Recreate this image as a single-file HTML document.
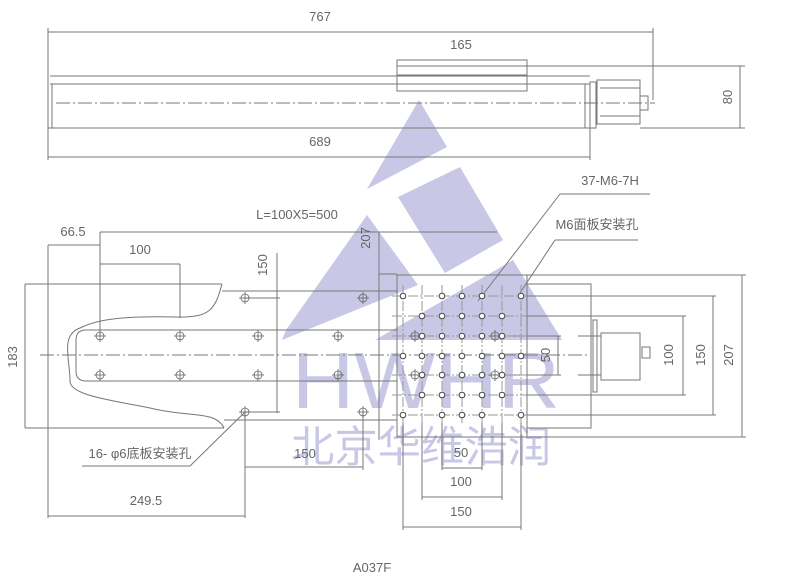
<!DOCTYPE html>
<html><head><meta charset="utf-8"><style>
html,body{margin:0;padding:0;background:#fff;width:800px;height:579px;overflow:hidden}
svg{display:block}
text{font-family:"Liberation Sans","Noto Sans CJK SC",sans-serif;fill:#666}
</style></head><body>
<svg width="800" height="579" viewBox="0 0 800 579" xmlns="http://www.w3.org/2000/svg">
<defs>
<g id="ch"><circle cx="0" cy="0" r="4"/><line x1="-6" y1="0" x2="6" y2="0"/><line x1="0" y1="-6" x2="0" y2="6"/></g>
</defs>
<!-- watermark -->
<g fill="#c8c8e6">
<polygon points="419,100 447,147 367,189"/>
<polygon points="398,197 460,167 503,240 445,273"/>
<polygon points="367,215 418,285 282,340 286,330"/>
<polygon points="513,260 562,340 375,340"/>
<text x="292" y="408" font-size="80" textLength="268" lengthAdjust="spacingAndGlyphs" style="fill:#c8c8e6">HWHR</text>
<text x="291" y="462" font-size="43" textLength="260" lengthAdjust="spacingAndGlyphs" style="fill:#c8c8e6">北京华维浩润</text>
</g>
<g stroke="#777" stroke-width="1" fill="none">
<!-- TOP VIEW -->
<line x1="48" y1="32" x2="653" y2="32"/>
<line x1="48" y1="28" x2="48" y2="160"/>
<line x1="653" y1="28" x2="653" y2="100"/>
<line x1="397" y1="60" x2="527" y2="60"/>
<rect x="397" y="60" width="130" height="31"/>
<line x1="397" y1="66" x2="527" y2="66"/>
<line x1="397" y1="75" x2="527" y2="75"/>
<line x1="50" y1="76" x2="590" y2="76"/>
<line x1="50" y1="84" x2="590" y2="84"/>
<rect x="52" y="84" width="533" height="44"/>
<line x1="48" y1="128" x2="590" y2="128"/>
<line x1="56" y1="103" x2="655" y2="103" stroke-dasharray="14,3,2,3"/>
<rect x="590" y="82" width="6" height="46"/>
<rect x="597" y="80" width="43" height="44"/>
<line x1="600" y1="88" x2="640" y2="88"/>
<line x1="600" y1="116" x2="640" y2="116"/>
<rect x="640" y="96" width="8" height="14"/>
<line x1="527" y1="66" x2="745" y2="66"/>
<line x1="640" y1="128" x2="745" y2="128"/>
<line x1="740" y1="66" x2="740" y2="128"/>
<line x1="48" y1="157" x2="590" y2="157"/>
<line x1="590" y1="128" x2="590" y2="160"/>
<!-- BOTTOM VIEW -->
<line x1="100" y1="232" x2="497" y2="232"/>
<line x1="48" y1="245" x2="100" y2="245"/>
<line x1="48" y1="245" x2="48" y2="518"/>
<line x1="100" y1="232" x2="100" y2="336"/>
<line x1="100" y1="264" x2="180" y2="264"/>
<line x1="180" y1="264" x2="180" y2="318"/>
<line x1="277" y1="253" x2="277" y2="413"/>
<line x1="245" y1="298" x2="280" y2="298"/>
<line x1="245" y1="412" x2="280" y2="412"/>
<line x1="379" y1="232" x2="379" y2="440"/>
<line x1="379" y1="274" x2="397" y2="274"/>
<line x1="25" y1="284" x2="222" y2="284"/>
<line x1="25" y1="428" x2="224" y2="428"/>
<line x1="25" y1="284" x2="25" y2="428"/>
<line x1="222" y1="291" x2="397" y2="291"/>
<line x1="224" y1="420" x2="397" y2="420"/>
<path d="M222,284 C215,310 210,318 175,317 C130,316 100,318 80,328 C60,335 70,360 70,380 C68,395 110,400 150,408 C190,418 215,410 224,428"/>
<path d="M397,330 L86,330 Q76,330 76,340 L76,371 Q76,381 86,381 L397,381"/>
<line x1="40" y1="355" x2="590" y2="355" stroke-dasharray="14,3,2,3"/>
<line x1="82" y1="466" x2="190" y2="466"/>
<line x1="190" y1="466" x2="245" y2="412"/>
<line x1="245" y1="412" x2="245" y2="518"/>
<line x1="363" y1="412" x2="363" y2="470"/>
<line x1="245" y1="467" x2="363" y2="467"/>
<line x1="48" y1="516" x2="245" y2="516"/>
<!-- table -->
<rect x="397" y="275" width="130" height="162"/>
<rect x="527" y="284" width="64" height="144"/>
<rect x="593" y="320" width="4" height="72"/>
<rect x="601" y="333" width="39" height="47"/>
<line x1="578" y1="336" x2="601" y2="336"/>
<line x1="578" y1="375" x2="601" y2="375"/>
<rect x="642" y="347" width="8" height="11"/>
<line x1="527" y1="296" x2="716" y2="296"/>
<line x1="527" y1="316" x2="686" y2="316"/>
<line x1="502" y1="336" x2="561" y2="336"/>
<line x1="502" y1="375" x2="561" y2="375"/>
<line x1="558" y1="336" x2="558" y2="375"/>
<line x1="527" y1="395" x2="686" y2="395"/>
<line x1="527" y1="415" x2="716" y2="415"/>
<line x1="527" y1="437" x2="746" y2="437"/>
<line x1="527" y1="275" x2="746" y2="275"/>
<line x1="683" y1="316" x2="683" y2="395"/>
<line x1="713" y1="296" x2="713" y2="415"/>
<line x1="742" y1="275" x2="742" y2="437"/>
<line x1="442" y1="415" x2="442" y2="470"/>
<line x1="482" y1="415" x2="482" y2="470"/>
<line x1="442" y1="468" x2="482" y2="468"/>
<line x1="422" y1="415" x2="422" y2="500"/>
<line x1="502" y1="415" x2="502" y2="500"/>
<line x1="422" y1="497" x2="502" y2="497"/>
<line x1="403" y1="415" x2="403" y2="530"/>
<line x1="521" y1="415" x2="521" y2="530"/>
<line x1="403" y1="527" x2="521" y2="527"/>
<line x1="560" y1="194" x2="650" y2="194"/>
<line x1="560" y1="194" x2="478" y2="301"/>
<line x1="555" y1="240" x2="638" y2="240"/>
<line x1="555" y1="240" x2="520" y2="293"/>
<g stroke-dasharray="10,2,2,2" stroke="#999">
<line x1="392" y1="296" x2="527" y2="296"/><line x1="392" y1="316" x2="527" y2="316"/>
<line x1="392" y1="336" x2="527" y2="336"/><line x1="392" y1="375" x2="527" y2="375"/>
<line x1="392" y1="395" x2="527" y2="395"/><line x1="392" y1="415" x2="527" y2="415"/>
<line x1="403" y1="285" x2="403" y2="425"/><line x1="422" y1="285" x2="422" y2="425"/>
<line x1="442" y1="285" x2="442" y2="425"/><line x1="462" y1="285" x2="462" y2="425"/>
<line x1="482" y1="285" x2="482" y2="425"/><line x1="502" y1="285" x2="502" y2="425"/>
<line x1="521" y1="285" x2="521" y2="425"/>
</g>
</g>
<g stroke="#666" fill="none" stroke-width="0.8">
<use href="#ch" x="100" y="336"/><use href="#ch" x="180" y="336"/><use href="#ch" x="258" y="336"/><use href="#ch" x="338" y="336"/>
<use href="#ch" x="100" y="375"/><use href="#ch" x="180" y="375"/><use href="#ch" x="258" y="375"/><use href="#ch" x="338" y="375"/>
<use href="#ch" x="245" y="298"/><use href="#ch" x="363" y="298"/><use href="#ch" x="245" y="412"/><use href="#ch" x="363" y="412"/>
<use href="#ch" x="415" y="336"/><use href="#ch" x="495" y="336"/><use href="#ch" x="415" y="375"/><use href="#ch" x="495" y="375"/>
</g>
<g stroke="#444" fill="#fff" stroke-width="1">
<circle cx="403" cy="296" r="2.8"/><circle cx="442" cy="296" r="2.8"/><circle cx="462" cy="296" r="2.8"/><circle cx="482" cy="296" r="2.8"/><circle cx="521" cy="296" r="2.8"/>
<circle cx="422" cy="316" r="2.8"/><circle cx="442" cy="316" r="2.8"/><circle cx="462" cy="316" r="2.8"/><circle cx="482" cy="316" r="2.8"/><circle cx="502" cy="316" r="2.8"/>
<circle cx="422" cy="336" r="2.8"/><circle cx="442" cy="336" r="2.8"/><circle cx="462" cy="336" r="2.8"/><circle cx="482" cy="336" r="2.8"/><circle cx="502" cy="336" r="2.8"/>
<circle cx="403" cy="356" r="2.8"/><circle cx="422" cy="356" r="2.8"/><circle cx="442" cy="356" r="2.8"/><circle cx="462" cy="356" r="2.8"/><circle cx="482" cy="356" r="2.8"/><circle cx="502" cy="356" r="2.8"/><circle cx="521" cy="356" r="2.8"/>
<circle cx="422" cy="375" r="2.8"/><circle cx="442" cy="375" r="2.8"/><circle cx="462" cy="375" r="2.8"/><circle cx="482" cy="375" r="2.8"/><circle cx="502" cy="375" r="2.8"/>
<circle cx="422" cy="395" r="2.8"/><circle cx="442" cy="395" r="2.8"/><circle cx="462" cy="395" r="2.8"/><circle cx="482" cy="395" r="2.8"/><circle cx="502" cy="395" r="2.8"/>
<circle cx="403" cy="415" r="2.8"/><circle cx="442" cy="415" r="2.8"/><circle cx="462" cy="415" r="2.8"/><circle cx="482" cy="415" r="2.8"/><circle cx="521" cy="415" r="2.8"/>
</g>
<g font-size="13">
<text x="320" y="21" text-anchor="middle">767</text>
<text x="461" y="49" text-anchor="middle">165</text>
<text x="320" y="146" text-anchor="middle">689</text>
<text transform="translate(732,97) rotate(-90)" text-anchor="middle">80</text>
<text x="73" y="236" text-anchor="middle">66.5</text>
<text x="297" y="219" text-anchor="middle">L=100X5=500</text>
<text x="140" y="254" text-anchor="middle">100</text>
<text transform="translate(267,265) rotate(-90)" text-anchor="middle">150</text>
<text transform="translate(370,238) rotate(-90)" text-anchor="middle">207</text>
<text transform="translate(17,357) rotate(-90)" text-anchor="middle">183</text>
<text x="140" y="458" text-anchor="middle">16- φ6底板安装孔</text>
<text x="305" y="458" text-anchor="middle">150</text>
<text x="146" y="505" text-anchor="middle">249.5</text>
<text x="610" y="185" text-anchor="middle">37-M6-7H</text>
<text x="597" y="229" text-anchor="middle">M6面板安装孔</text>
<text transform="translate(550,355) rotate(-90)" text-anchor="middle">50</text>
<text transform="translate(673,355) rotate(-90)" text-anchor="middle">100</text>
<text transform="translate(705,355) rotate(-90)" text-anchor="middle">150</text>
<text transform="translate(733,355) rotate(-90)" text-anchor="middle">207</text>
<text x="461" y="457" text-anchor="middle">50</text>
<text x="461" y="486" text-anchor="middle">100</text>
<text x="461" y="516" text-anchor="middle">150</text>
<text x="372" y="572" text-anchor="middle">A037F</text>
</g>
</svg>
</body></html>
